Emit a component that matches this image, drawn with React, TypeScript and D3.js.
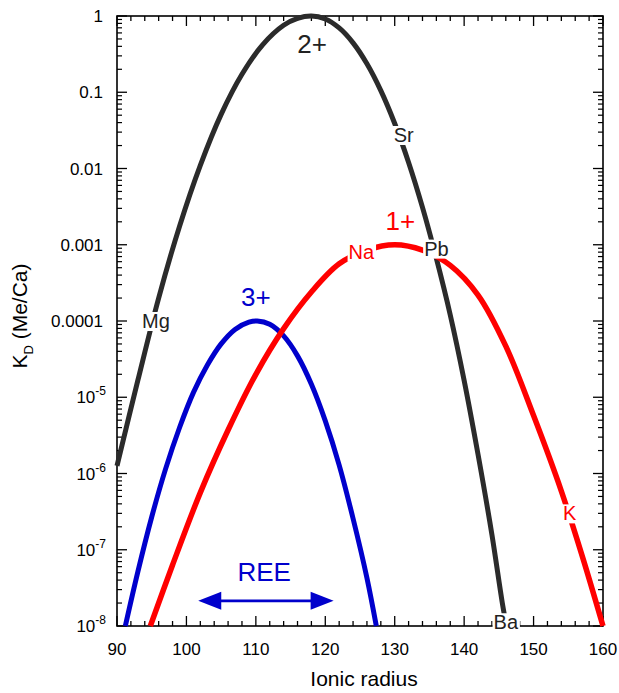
import React, { useEffect, useRef } from 'react';
import * as d3 from 'd3';

const W = 619;
const H = 693;

// Axis domains and ticks
const X_DOMAIN: [number, number] = [90, 160];
const Y_DOMAIN: [number, number] = [1e-8, 1];
const xTickValues = [90, 100, 110, 120, 130, 140, 150, 160];
const yTickValues = [1, 0.1, 0.01, 0.001, 0.0001, 1e-5, 1e-6, 1e-7, 1e-8];
const yTickLabels = ['1', '0.1', '0.01', '0.001', '0.0001', '10^-5', '10^-6', '10^-7', '10^-8'];

// 2+ series (black)
const radius2 = [90, 93, 96, 99, 102, 105, 108, 111, 114, 116, 118, 120, 122, 124, 126, 128, 130, 132, 134, 136, 138, 140, 142, 144, 145.5, 146.1];
const kd2 = [1.26e-6, 1.66e-5, 2.0e-4, 1.74e-3, 0.011, 0.0513, 0.172, 0.422, 0.755, 0.931, 1, 0.914, 0.697, 0.444, 0.236, 0.105, 0.0389, 0.012, 3.09e-3, 6.61e-4, 1.2e-4, 1.66e-5, 1.78e-6, 1.58e-7, 2.0e-8, 1e-8];

// 3+ series (blue)
const radius3 = [91.2, 93, 95, 97, 99, 101, 103, 105, 107, 109, 110.2, 112, 114, 116, 118, 120, 122, 124, 126, 127.35];
const kd3 = [1e-8, 5.13e-8, 2.69e-7, 1.15e-6, 3.98e-6, 1.15e-5, 2.63e-5, 5.01e-5, 7.76e-5, 9.64e-5, 1e-4, 9.04e-5, 6.37e-5, 3.49e-5, 1.48e-5, 4.9e-6, 1.29e-6, 2.57e-7, 4.27e-8, 1e-8];

// 1+ series (red)
const radius1 = [94.8, 98, 102, 106, 110, 114, 118, 122, 126, 130, 134, 138, 142, 146, 150, 154, 157, 160];
const kd1 = [1e-8, 6.31e-8, 5.62e-7, 3.72e-6, 2.0e-5, 7.94e-5, 2.4e-4, 5.62e-4, 8.51e-4, 1e-3, 8.51e-4, 5.37e-4, 2.19e-4, 4.68e-5, 5.75e-6, 5.89e-7, 8.32e-8, 1e-8];

// Labels in the plot
const labelTexts = ['2+', 'Sr', '1+', 'Na', 'Pb', 'Mg', '3+', 'K', 'Ba', 'REE'];
const labelRadius = [118.1, 131.3, 130.8, 125.2, 136.0, 95.6, 110.0, 155.2, 146.0, 111.2];
const labelKd = [0.43, 0.0275, 2.04e-3, 8.1e-4, 8.9e-4, 1e-4, 2.06e-4, 3.0e-7, 1.12e-8, 5.1e-8];
const labelColors = ['#222', '#222', '#ff0000', '#ff0000', '#222', '#222', '#0000cc', '#ff0000', '#222', '#0000cc'];
const labelSizes = [26, 20, 26, 20, 20, 20, 26, 20, 20, 26];
const labelBg = [false, true, false, true, true, true, false, true, true, false];

// REE arrow range
const reeRange = [101.7, 121.2];
const reeKd = 2.14e-8;

const FONT = '"Liberation Sans", Arial, Helvetica, sans-serif';

export default function App() {
  const ref = useRef<SVGSVGElement>(null);

  useEffect(() => {
    const svg = d3.select(ref.current);
    svg.selectAll('*').remove();

    const x = d3.scaleLinear().domain(X_DOMAIN).range([117, 603]);
    const y = d3.scaleLog().domain(Y_DOMAIN).range([626, 16]);
    const [xl, xr] = x.range();
    const yb = y(Y_DOMAIN[0]);
    const yt = y(Y_DOMAIN[1]);

    const axes = svg.append('g').attr('stroke', '#000').attr('fill', 'none');

    // x ticks (inward, bottom & top)
    d3.range(X_DOMAIN[0], X_DOMAIN[1] + 0.01, 2).forEach((v) => {
      const major = Math.abs(v % 10) < 1e-9;
      const len = major ? 10 : 5;
      const px = x(v);
      axes.append('line').attr('x1', px).attr('x2', px).attr('y1', yb).attr('y2', yb - len).attr('stroke-width', 1.3);
      axes.append('line').attr('x1', px).attr('x2', px).attr('y1', yt).attr('y2', yt + len).attr('stroke-width', 1.3);
    });

    // y ticks (log, inward, left & right)
    const yMinor: number[] = [];
    for (let e = -8; e < 0; e++) {
      for (let m = 2; m <= 9; m++) yMinor.push(m * Math.pow(10, e));
    }
    yMinor.forEach((v) => {
      const py = y(v);
      axes.append('line').attr('x1', xl).attr('x2', xl + 5).attr('y1', py).attr('y2', py).attr('stroke-width', 1.2);
      axes.append('line').attr('x1', xr).attr('x2', xr - 5).attr('y1', py).attr('y2', py).attr('stroke-width', 1.2);
    });
    yTickValues.forEach((v) => {
      const py = y(v);
      axes.append('line').attr('x1', xl).attr('x2', xl + 10).attr('y1', py).attr('y2', py).attr('stroke-width', 1.3);
      axes.append('line').attr('x1', xr).attr('x2', xr - 10).attr('y1', py).attr('y2', py).attr('stroke-width', 1.3);
    });

    axes.append('rect').attr('x', xl).attr('y', yt).attr('width', xr - xl).attr('height', yb - yt).attr('stroke-width', 1.6);

    // tick labels
    const tl = svg.append('g').attr('font-family', FONT).attr('font-size', 17).attr('fill', '#000');
    xTickValues.forEach((v) => {
      tl.append('text').attr('x', x(v)).attr('y', yb + 29).attr('text-anchor', 'middle').text(String(v));
    });
    yTickValues.forEach((v, i) => {
      const lab = yTickLabels[i];
      const py = y(v);
      if (lab.includes('^')) {
        const [base, exp] = lab.split('^');
        const t = tl.append('text').attr('x', 106).attr('y', py + 6).attr('text-anchor', 'end');
        t.append('tspan').text(base);
        t.append('tspan').attr('font-size', 12).attr('dy', -8).text(exp);
      } else {
        tl.append('text').attr('x', 103).attr('y', py + 6).attr('text-anchor', 'end').text(lab);
      }
    });

    // axis titles
    svg.append('text')
      .attr('x', (xl + xr) / 2 + 4).attr('y', 686)
      .attr('text-anchor', 'middle').attr('font-family', FONT).attr('font-size', 21)
      .text('Ionic radius');
    const yt2 = svg.append('text')
      .attr('transform', `translate(27, ${(yt + yb) / 2 - 5}) rotate(-90)`)
      .attr('text-anchor', 'middle').attr('font-family', FONT).attr('font-size', 21);
    yt2.append('tspan').text('K');
    yt2.append('tspan').attr('font-size', 13).attr('dy', 6).text('D');
    yt2.append('tspan').attr('dy', -6).text(' (Me/Ca)');

    // curves
    const line = d3.line<[number, number]>()
      .x((d) => x(d[0]))
      .y((d) => y(d[1]))
      .curve(d3.curveCatmullRom.alpha(0.5));

    const series = [
      { r: radius2, k: kd2, color: '#2b2b2b', w: 5 },
      { r: radius3, k: kd3, color: '#0000cc', w: 5 },
      { r: radius1, k: kd1, color: '#ff0000', w: 5.5 },
    ];
    series.forEach((s) => {
      const pts = s.r.map((r, i) => [r, s.k[i]] as [number, number]);
      svg.append('path')
        .attr('d', line(pts) as string)
        .attr('fill', 'none')
        .attr('stroke', s.color)
        .attr('stroke-width', s.w)
        .attr('stroke-linecap', 'butt');
    });

    // REE arrow
    const ax0 = x(reeRange[0]);
    const ax1 = x(reeRange[1]);
    const ay = y(reeKd);
    const headL = 23;
    const headH = 9;
    const arrow = svg.append('g').attr('fill', '#0000cc').attr('stroke', 'none');
    arrow.append('line').attr('x1', ax0 + headL - 2).attr('x2', ax1 - headL + 2).attr('y1', ay).attr('y2', ay)
      .attr('stroke', '#0000cc').attr('stroke-width', 2.7);
    arrow.append('path').attr('d', `M${ax0},${ay}L${ax0 + headL},${ay - headH}L${ax0 + headL},${ay + headH}Z`);
    arrow.append('path').attr('d', `M${ax1},${ay}L${ax1 - headL},${ay - headH}L${ax1 - headL},${ay + headH}Z`);

    // labels
    const lg = svg.append('g').attr('font-family', FONT);
    labelTexts.forEach((txt, i) => {
      const cx = x(labelRadius[i]);
      const cy = y(labelKd[i]);
      const grp = lg.append('g');
      const t = grp.append('text')
        .attr('x', cx).attr('y', cy)
        .attr('text-anchor', 'middle')
        .attr('dominant-baseline', 'central')
        .attr('font-size', labelSizes[i])
        .attr('fill', labelColors[i])
        .text(txt);
      if (labelBg[i]) {
        const bb = (t.node() as SVGTextElement).getBBox();
        grp.insert('rect', 'text')
          .attr('x', bb.x - 1).attr('y', bb.y + 2)
          .attr('width', bb.width + 2).attr('height', bb.height - 3)
          .attr('fill', '#fff');
      }
    });
  }, []);

  return (
    <svg
      ref={ref}
      width={W}
      height={H}
      style={{ position: 'absolute', left: 0, top: 0, background: '#fff' }}
    />
  );
}
